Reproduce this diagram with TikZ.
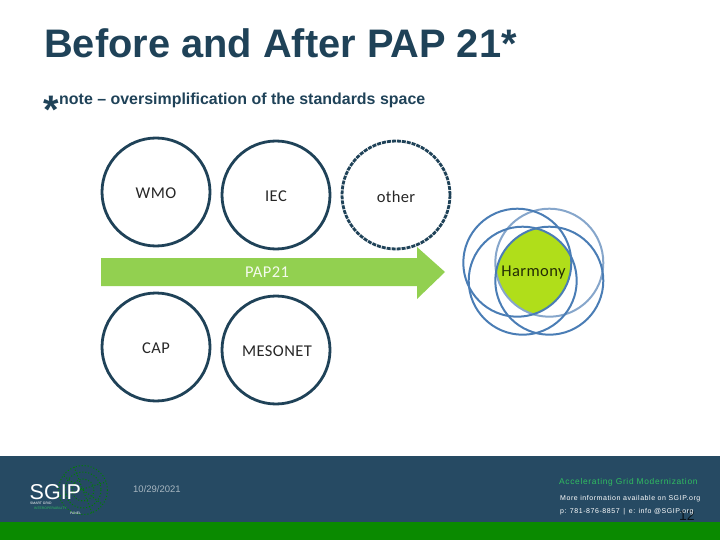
\documentclass[tikz,border=0pt]{standalone}
\usepackage{fontspec}
\setmainfont{Liberation Sans}
\newfontfamily\lab[LetterSpace=2.5]{Carlito}
\newfontfamily\wide[LetterSpace=8]{Liberation Sans}
\usetikzlibrary{shapes.arrows}
\definecolor{navy}{HTML}{1F4258}
\definecolor{band}{HTML}{264A63}
\definecolor{bargreen}{HTML}{0A8A00}
\definecolor{arrowgreen}{HTML}{92D050}
\definecolor{limeg}{HTML}{B0DE1A}
\definecolor{blue1}{HTML}{4A7DB5}
\definecolor{blue2}{HTML}{86A6CB}
\definecolor{acc}{HTML}{30BE60}
\tikzset{
 stdc/.style={circle,draw=navy,line width=2.8pt,minimum size=108pt,inner sep=0pt},
 lbl/.style={font=\lab\fontsize{16.5}{18}\selectfont,text=black!85,inner sep=0pt},
 foot/.style={font=\wide\fontsize{7}{8}\selectfont,anchor=west,inner sep=0pt},
 ring/.style={draw=blue1,line width=2pt},
 ringl/.style={draw=blue2,line width=2pt}
}
\begin{document}
\begin{tikzpicture}[x=1pt,y=-1pt]
\useasboundingbox (0,0) rectangle (720,540);
\node[anchor=base west,inner sep=0pt,text=navy,font=\bfseries\fontsize{39.8}{42}\selectfont] (title) at (44,58) {Before and After PAP 21*};
\node[anchor=base west,inner sep=0pt,text=navy,font=\bfseries\fontsize{39.8}{42}\selectfont] (star) at (43,124) {*};
\node[anchor=base west,inner sep=0pt,text=navy,font=\bfseries\fontsize{15.95}{18}\selectfont] (note) at (59,105) {note – oversimplification of the standards space};
\node[stdc] (wmo) at (156,192) {};
\node[stdc] (iec) at (276,195) {};
\node[stdc,dash pattern=on 4pt off 1pt] (other) at (396,195) {};
\node[stdc] (cap) at (156,347) {};
\node[stdc] (meso) at (276,350) {};
\node[lbl] at (156,193.5) {WMO};
\node[lbl] at (276,196.5) {IEC};
\node[lbl] at (396,196.5) {other};
\node[lbl] at (156,348.5) {CAP};
\node[lbl] at (277,351) {MESONET};
\fill[arrowgreen] (101,258) -- (417,258) -- (417,247) -- (445,272) -- (417,299) -- (417,286) -- (101,286) -- cycle;
\node[lbl,text=white!90!arrowgreen] (pap) at (267,272.5) {PAP21};
% Harmony
\begin{scope}
\clip (517.3,262.7) circle (54);
\clip (549.3,262.7) circle (54);
\clip (522.7,280.7) circle (54);
\clip (549.3,280.7) circle (54);
\fill[limeg] (460,200) rectangle (620,340);
\end{scope}
\draw[ringl] (549.3,262.7) circle (54);
\draw[ring] (517.3,262.7) circle (54);
\draw[ring] (522.7,280.7) circle (54);
\draw[ring] (549.3,280.7) circle (54);
\node[lbl,text=black!80!limeg] (harm) at (533.5,273) {Harmony};
% Footer
\fill[band] (0,456) rectangle (720,522);
\fill[bargreen] (0,522) rectangle (720,540);
\draw[green!50!black,line width=1pt,dotted] (83,490) circle (24.5);
\draw[green!50!black,line width=1pt,dotted] (83,490) circle (18);
\draw[green!50!black,line width=1pt,dotted] (83,490) circle (11);
\draw[green!50!black,line width=1pt,dotted] (64,476) -- (102,504) (74,467) -- (92,513) (60,496) -- (106,482);
\node[anchor=base west,inner sep=0pt,text=white,font=\fontsize{21.5}{24}\selectfont] (sgip) at (29.5,499) {SGIP};
\node[anchor=west,inner sep=0pt,text=white!80,font=\fontsize{3.4}{4}\selectfont] (l1) at (30,503.5) {SMART GRID};
\node[anchor=west,inner sep=0pt,text=acc,font=\fontsize{3.4}{4}\selectfont] (l2) at (34,508) {INTEROPERABILITY};
\node[anchor=west,inner sep=0pt,text=white!80,font=\fontsize{3.4}{4}\selectfont] (l3) at (70,513) {PANEL};
\node[foot,text=white!60!band,font=\fontsize{9.5}{10}\selectfont] (date) at (133,489) {10/29/2021};
\node[foot,text=black!75!band,font=\fontsize{14}{15}\selectfont] (num) at (679,516) {12};
\node[foot,text=acc,font=\wide\fontsize{8.4}{9}\selectfont] (a1) at (559,482) {Accelerating Grid Modernization};
\node[foot,text=white] (a2) at (560,498.5) {More information available on SGIP.org};
\node[foot,text=white] (a3) at (560,511.5) {p: 781-876-8857 \,|\, e: info @SGIP.org};
\end{tikzpicture}
\end{document}
